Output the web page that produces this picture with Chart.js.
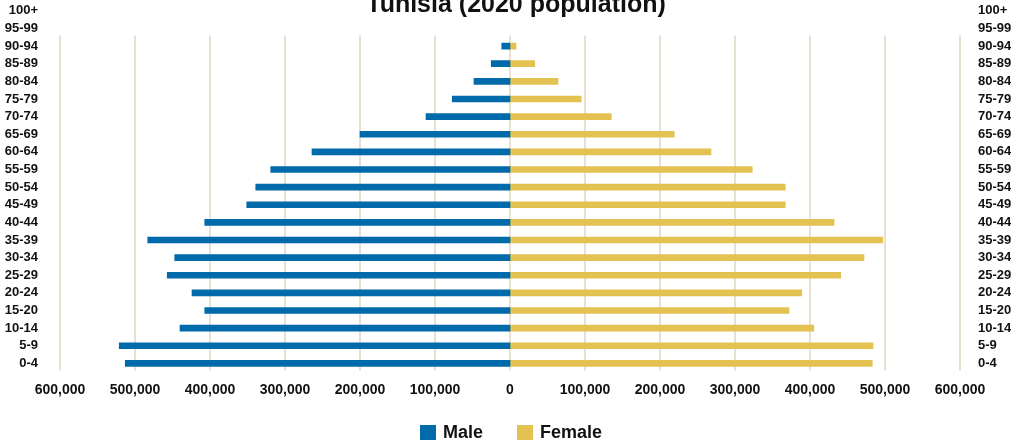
<!DOCTYPE html>
<html>
<head>
<meta charset="utf-8">
<title>Tunisia (2020 population)</title>
<script src="https://cdn.jsdelivr.net/npm/chart.js@4.4.1/dist/chart.umd.min.js"></script>
<style>
  html, body { margin: 0; padding: 0; background: #fff; }
  #wrap { position: relative; width: 1022px; height: 443px; }
  #legend {
    position: absolute; left: 0; right: 0; top: 423px;
    display: flex; justify-content: center;
    font: bold 18px 'Liberation Sans', Arial, sans-serif; color: #111; line-height: 18px;
  }
  #legend .item { display: flex; align-items: center; margin: 0 17px; }
  #legend .box { width: 16px; height: 15px; margin-right: 7px; }
</style>
</head>
<body>
<div id="wrap">
  <canvas id="pyramid" width="1022" height="443"></canvas>
  <div id="legend"></div>
</div>
<script>
// Age groups, oldest at the top
const ageGroups = ['100+', '95-99', '90-94', '85-89', '80-84', '75-79', '70-74', '65-69', '60-64', '55-59',
  '50-54', '45-49', '40-44', '35-39', '30-34', '25-29', '20-24', '15-20', '10-14', '5-9', '0-4'];

// no bars are drawn for the two oldest groups
const malePop = [null, null, 11000, 25000, 48000, 77000, 112000, 200000, 264000, 319000,
  339000, 351000, 407000, 483000, 447000, 457000, 424000, 407000, 440000, 521000, 513000];

const femalePop = [null, null, 8000, 33000, 64000, 95000, 135000, 219000, 268000, 323000,
  367000, 367000, 432000, 497000, 472000, 441000, 389000, 372000, 405000, 484000, 483000];

const xTicks = [-600000, -500000, -400000, -300000, -200000, -100000, 0,
  100000, 200000, 300000, 400000, 500000, 600000];

const FONT = "'Liberation Sans', Arial, sans-serif";
const MALE_COLOR = '#006aab';
const FEMALE_COLOR = '#e4c252';
const GRID_COLOR = '#e8e0d2';

// vertical grid lines only span the age groups that carry data
const ageGrid = {
  id: 'ageGrid',
  beforeDatasetsDraw(chart) {
    const { ctx, scales: { x, y } } = chart;
    const top = y.getPixelForValue(1.4);
    const bottom = y.getPixelForValue(20.4);
    ctx.save();
    ctx.strokeStyle = GRID_COLOR;
    ctx.lineWidth = 2;
    x.ticks.forEach(t => {
      const px = Math.round(x.getPixelForValue(t.value));
      ctx.beginPath();
      ctx.moveTo(px, top);
      ctx.lineTo(px, bottom);
      ctx.stroke();
    });
    ctx.restore();
  }
};

// title sits half outside the top edge
const topTitle = {
  id: 'topTitle',
  afterDraw(chart, args, opts) {
    const ctx = chart.ctx;
    ctx.save();
    ctx.font = 'bold 25px ' + FONT;
    ctx.fillStyle = '#111';
    ctx.textAlign = 'center';
    ctx.textBaseline = 'alphabetic';
    ctx.fillText(opts.text, opts.x, opts.y);
    ctx.restore();
  }
};

// html legend built from the datasets
const htmlLegend = {
  id: 'htmlLegend',
  afterUpdate(chart) {
    const el = document.getElementById('legend');
    el.innerHTML = '';
    chart.data.datasets.forEach(ds => {
      const item = document.createElement('div');
      item.className = 'item';
      const box = document.createElement('span');
      box.className = 'box';
      box.style.background = ds.backgroundColor;
      const label = document.createElement('span');
      label.textContent = ds.label;
      item.appendChild(box);
      item.appendChild(label);
      el.appendChild(item);
    });
  }
};

const tickFont = { family: FONT, size: 13, weight: 'bold' };

// fixed width for the age label columns, no extra edge padding
function ageAxisFit(width) {
  return axis => {
    axis.width = width;
    axis.paddingTop = 0;
    axis.paddingBottom = 0;
  };
}

new Chart(document.getElementById('pyramid'), {
  type: 'bar',
  data: {
    labels: ageGroups,
    datasets: [
      { label: 'Male', data: malePop.map(v => v === null ? null : -v), backgroundColor: MALE_COLOR },
      { label: 'Female', data: femalePop, backgroundColor: FEMALE_COLOR },
    ],
  },
  options: {
    indexAxis: 'y',
    responsive: false,
    animation: false,
    barThickness: 6,
    borderWidth: 0,
    layout: { padding: { top: 2, left: 5, right: 11, bottom: 34 } },
    plugins: {
      legend: { display: false },
      tooltip: { enabled: false },
      topTitle: { text: 'Tunisia (2020 population)', x: 516, y: 12 },
    },
    scales: {
      x: {
        stacked: true,
        min: -600000,
        max: 600000,
        afterBuildTicks: axis => { axis.ticks = xTicks.map(v => ({ value: v })); },
        grid: { display: false, drawTicks: false },
        border: { display: false },
        ticks: {
          autoSkip: false,
          maxRotation: 0,
          padding: 10,
          color: '#111',
          font: { family: FONT, size: 14, weight: 'bold' },
          callback: v => Math.abs(v).toLocaleString('en-US'),
        },
      },
      y: {
        stacked: true,
        afterFit: ageAxisFit(55),
        grid: { display: false, drawTicks: false },
        border: { display: false },
        ticks: { autoSkip: false, padding: 22, color: '#111', font: tickFont },
      },
      y2: {
        type: 'category',
        position: 'right',
        labels: ageGroups,
        offset: true,
        afterFit: ageAxisFit(51),
        grid: { display: false, drawTicks: false },
        border: { display: false },
        ticks: { autoSkip: false, padding: 18, color: '#111', font: tickFont },
      },
    },
  },
  plugins: [ageGrid, topTitle, htmlLegend],
});
</script>
</body>
</html>
